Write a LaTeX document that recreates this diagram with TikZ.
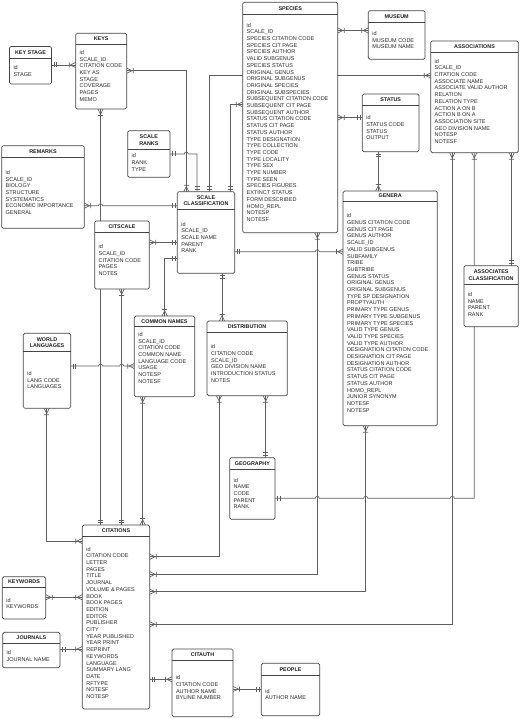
\documentclass[tikz,border=0pt]{standalone}
\usepackage{fontspec}
\setmainfont{Liberation Sans}
\usetikzlibrary{fit}
\definecolor{boxc}{RGB}{68,68,68}
\definecolor{connc}{RGB}{95,95,95}
\definecolor{txtc}{RGB}{42,42,42}

\pgfdeclarearrow{
  name=ERone,
  parameters={},
  setup code={
    \pgfarrowssettipend{0pt}
    \pgfarrowssetlineend{0pt}
    \pgfarrowssetbackend{-6pt}
    \pgfarrowssetvisualbackend{-6pt}
    \pgfarrowshullpoint{0pt}{2.6pt}
    \pgfarrowshullpoint{0pt}{-2.6pt}
    \pgfarrowshullpoint{-6pt}{2.6pt}
    \pgfarrowshullpoint{-6pt}{-2.6pt}
  },
  drawing code={
    \pgfpathmoveto{\pgfqpoint{-2.4pt}{-2.5pt}}
    \pgfpathlineto{\pgfqpoint{-2.4pt}{2.5pt}}
    \pgfpathmoveto{\pgfqpoint{-4.9pt}{-2.5pt}}
    \pgfpathlineto{\pgfqpoint{-4.9pt}{2.5pt}}
    \pgfusepathqstroke
  }
}
\pgfdeclarearrow{
  name=ERmany,
  parameters={},
  setup code={
    \pgfarrowssettipend{0pt}
    \pgfarrowssetlineend{0pt}
    \pgfarrowssetbackend{-7pt}
    \pgfarrowssetvisualbackend{-7pt}
    \pgfarrowshullpoint{0pt}{2.6pt}
    \pgfarrowshullpoint{0pt}{-2.6pt}
    \pgfarrowshullpoint{-7pt}{2.6pt}
    \pgfarrowshullpoint{-7pt}{-2.6pt}
  },
  drawing code={
    \pgfpathmoveto{\pgfqpoint{0pt}{2.6pt}}
    \pgfpathlineto{\pgfqpoint{-5.3pt}{0pt}}
    \pgfpathlineto{\pgfqpoint{0pt}{-2.6pt}}
    \pgfpathmoveto{\pgfqpoint{-6.5pt}{-2.5pt}}
    \pgfpathlineto{\pgfqpoint{-6.5pt}{2.5pt}}
    \pgfusepathqstroke
  }
}

\tikzset{
  ent/.style={draw=boxc, fill=white, rounded corners=1.5pt, inner sep=0pt, outer sep=0pt, line width=0.7pt},
  anchorbox/.style={inner sep=0pt, outer sep=0pt},
  sepl/.style={draw=boxc, line width=0.6pt},
  hdr/.style={font=\fontsize{5.4}{6.4}\selectfont\bfseries, text=black!88, align=center, inner sep=0pt},
  body/.style={font=\fontsize{5.5}{6.7}\selectfont, text=txtc, align=left, inner sep=0pt},
  conn/.style={draw=connc, line width=0.65pt},
}

% name, x1, y1, x2, y2, separator y, header, first line y, lines
\newcommand\erent[9]{%
  \node[ent, fit={(#2,#3) (#4,#5)}] (#1) {};
  \draw[sepl] (#2,#6) -- (#4,#6);
  \node[hdr] (#1-h) at ({(#2+#4)/2},{(#3+#6)/2}) {#7};
  \node[body, anchor=north west] (#1-b) at ({#2+3.8},{#8-2}) {#9};
}

\begin{document}
\begin{tikzpicture}[x=1pt,y=-1pt]
\useasboundingbox[fill=white] (0,0) rectangle (520,719);

% named anchor boxes of the entities (drawn later), so connectors go underneath
\node[anchorbox, fit={(9.5,46.5) (51.5,84)}] (keystage) {};
\node[anchorbox, fit={(75.7,33.3) (126.7,109)}] (keys) {};
\node[anchorbox, fit={(127.7,130.7) (170,177.3)}] (scaleranks) {};
\node[anchorbox, fit={(1.7,145.7) (84.3,228.3)}] (remarks) {};
\node[anchorbox, fit={(94.7,221) (149.3,289)}] (citscale) {};
\node[anchorbox, fit={(23.3,333.3) (70.7,408.3)}] (worldlang) {};
\node[anchorbox, fit={(242.7,2.3) (337.7,232.7)}] (species) {};
\node[anchorbox, fit={(368.3,10.7) (425,59.3)}] (museum) {};
\node[anchorbox, fit={(430.7,41) (518.3,152.7)}] (associations) {};
\node[anchorbox, fit={(362.3,94) (419,151.7)}] (status) {};
\node[anchorbox, fit={(343,191) (437.3,425.7)}] (genera) {};
\node[anchorbox, fit={(464,265.7) (518.3,326.7)}] (assocclass) {};
\node[anchorbox, fit={(177.3,191.7) (234.7,273.3)}] (scaleclass) {};
\node[anchorbox, fit={(207,321) (287.3,395.7)}] (distribution) {};
\node[anchorbox, fit={(134.3,316) (194.7,396.7)}] (commonnames) {};
\node[anchorbox, fit={(229.7,457.7) (275,519.3)}] (geography) {};
\node[anchorbox, fit={(82.3,525) (149.7,709)}] (citations) {};
\node[anchorbox, fit={(2.3,576.7) (45.7,619)}] (keywords) {};
\node[anchorbox, fit={(2.7,632.3) (60,667.7)}] (journals) {};
\node[anchorbox, fit={(172,649) (233,716.7)}] (citauth) {};
\node[anchorbox, fit={(261.3,663.3) (319.7,715.7)}] (people) {};

% connectors
\draw[conn, ERone-ERmany] (keystage.east |- 0,65) -- (keys.west |- 0,65);
\draw[conn, ERmany-ERmany] (keys.east |- 0,70.7) -| (scaleclass.north -| 186.3,0);
\draw[conn, ERone-ERone] (scaleranks.east |- 0,154) -- (184.3,154) arc(180:360:2) -| (scaleclass.north -| 197,0);
\draw[conn, ERone-ERmany] (scaleclass.north -| 209,0) |- (associations.west |- 0,75.5);
\draw[conn, ERmany-ERone] (species.west |- 0,104.3) -| (scaleclass.north -| 230.5,0);
\draw[conn, ERmany-ERmany] (species.east |- 0,30.5) -- (museum.west |- 0,30.5);
\draw[conn, ERmany-ERone] (species.east |- 0,117.5) -- (status.west |- 0,117.5);
\draw[conn, ERone-ERmany] (status.south -| 378.3,0) -- (genera.north -| 378.3,0);
\draw[conn, ERmany-ERone] (associations.south -| 511.7,0) -- (assocclass.north -| 511.7,0);
\draw[conn, ERmany-ERone] (associations.south -| 474.3,0) |- (454.3,498.3) arc(360:180:2) -- (367.7,498.3) arc(360:180:2) -- (319.3,498.3) arc(360:180:2) -- (geography.east |- 0,498.3);
\draw[conn, ERmany-ERmany] (associations.south -| 452.3,0) |- (citations.east |- 0,624.3);
\draw[conn, ERmany-ERmany] (genera.south -| 365.7,0) |- (citations.east |- 0,591.7);
\draw[conn, ERmany-ERmany] (species.south -| 317.3,0) |- (citations.east |- 0,574.3);
\draw[conn, ERmany-ERmany] (distribution.south -| 219,0) |- (citations.east |- 0,556.7);
\draw[conn, ERmany-ERone] (distribution.south -| 265.7,0) -- (geography.north -| 265.7,0);
\draw[conn, ERone-ERmany] (scaleclass.south -| 222,0) -- (distribution.north -| 222,0);
\draw[conn, ERone-ERmany] (scaleclass.east |- 0,251.7) -- (315.3,251.7) arc(180:360:2) -- (genera.west |- 0,251.7);
\draw[conn, ERmany-ERone] (remarks.east |- 0,205.7) -- (98.5,205.7) arc(180:360:2) -- (scaleclass.west |- 0,205.7);
\draw[conn, ERmany-ERone] (citscale.east |- 0,242.3) -- (scaleclass.west |- 0,242.3);
\draw[conn, ERone-ERmany] (scaleclass.west |- 0,258) -| (commonnames.north -| 164.7,0);
\draw[conn, ERmany-ERone] (keys.south -| 100.5,0) -- (citations.north -| 100.5,0);
\draw[conn, ERmany-ERone] (citscale.south -| 121.7,0) -- (citations.north -| 121.7,0);
\draw[conn, ERmany-ERmany] (commonnames.south -| 142.7,0) -- (citations.north -| 142.7,0);
\draw[conn, ERone-ERmany] (worldlang.east |- 0,366) -- (98.5,366) arc(180:360:2) -- (119.7,366) arc(180:360:2) -- (commonnames.west |- 0,366);
\draw[conn, ERmany-ERmany] (worldlang.south -| 46.7,0) |- (citations.west |- 0,541);
\draw[conn, ERmany-ERmany] (keywords.east |- 0,597.3) -- (citations.west |- 0,597.3);
\draw[conn, ERone-ERmany] (journals.east |- 0,649) -- (citations.west |- 0,649);
\draw[conn, ERone-ERmany] (citations.east |- 0,679.3) -- (citauth.west |- 0,679.3);
\draw[conn, ERmany-ERone] (citauth.east |- 0,689) -- (people.west |- 0,689);

% entities
\erent{keystageB}{9.5}{46.5}{51.5}{84}{58.3}{KEY STAGE}{67.3}{id\\STAGE}
\erent{keysB}{75.7}{33.3}{126.7}{109}{44.3}{KEYS}{52.3}{id\\SCALE\_ID\\CITATION CODE\\KEY AS\\STAGE\\COVERAGE\\PAGES\\MEMO}
\erent{scaleranksB}{127.7}{130.7}{170}{177.3}{149.3}{SCALE\\RANKS}{155.5}{id\\RANK\\TYPE}
\erent{remarksB}{1.7}{145.7}{84.3}{228.3}{157.7}{REMARKS}{172.3}{id\\SCALE\_ID\\BIOLOGY\\STRUCTURE\\SYSTEMATICS\\ECONOMIC IMPORTANCE\\GENERAL}
\erent{citscaleB}{94.7}{221}{149.3}{289}{232.7}{CITSCALE}{246.7}{id\\SCALE\_ID\\CITATION CODE\\PAGES\\NOTES}
\erent{worldlangB}{23.3}{333.3}{70.7}{408.3}{351.7}{WORLD\\LANGUAGES}{373.3}{id\\LANG CODE\\LANGUAGES}
\erent{speciesB}{242.7}{2.3}{337.7}{232.7}{14}{SPECIES}{25}{id\\SCALE\_ID\\SPECIES CITATION CODE\\SPECIES CIT PAGE\\SPECIES AUTHOR\\VALID SUBGENUS\\SPECIES STATUS\\ORIGINAL GENUS\\ORIGINAL SUBGENUS\\ORIGINAL SPECIES\\ORIGINAL SUBSPECIES\\SUBSEQUENT CITATION CODE\\SUBSEQUENT CIT PAGE\\SUBSEQUENT AUTHOR\\STATUS CITATION CODE\\STATUS CIT PAGE\\STATUS AUTHOR\\TYPE DESIGNATION\\TYPE COLLECTION\\TYPE CODE\\TYPE LOCALITY\\TYPE SEX\\TYPE NUMBER\\TYPE SEEN\\SPECIES FIGURES\\EXTINCT STATUS\\FORM DESCRIBED\\HOMO\_REPL\\NOTESP\\NOTESF}
\erent{museumB}{368.3}{10.7}{425}{59.3}{22.7}{MUSEUM}{33.3}{id\\MUSEUM CODE\\MUSEUM NAME}
\erent{associationsB}{430.7}{41}{518.3}{152.7}{52.7}{ASSOCIATIONS}{61}{id\\SCALE\_ID\\CITATION CODE\\ASSOCIATE NAME\\ASSOCIATE VALID AUTHOR\\RELATION\\RELATION TYPE\\ACTION A ON B\\ACTION B ON A\\ASSOCIATION SITE\\GEO DIVISION NAME\\NOTESP\\NOTESF}
\erent{statusB}{362.3}{94}{419}{151.7}{105.3}{STATUS}{117.7}{id\\STATUS CODE\\STATUS\\OUTPUT}
\erent{generaB}{343}{191}{437.3}{425.7}{201}{GENERA}{215.7}{id\\GENUS CITATION CODE\\GENUS CIT PAGE\\GENUS AUTHOR\\SCALE\_ID\\VALID SUBGENUS\\SUBFAMILY\\TRIBE\\SUBTRIBE\\GENUS STATUS\\ORIGINAL GENUS\\ORIGINAL SUBGENUS\\TYPE SP DESIGNATION\\PROPTYAUTH\\PRIMARY TYPE GENUS\\PRIMARY TYPE SUBGENUS\\PRIMARY TYPE SPECIES\\VALID TYPE GENUS\\VALID TYPE SPECIES\\VALID TYPE AUTHOR\\DESIGNATION CITATION CODE\\DESIGNATION CIT PAGE\\DESIGNATION AUTHOR\\STATUS CITATION CODE\\STATUS CIT PAGE\\STATUS AUTHOR\\HOMO\_REPL\\JUNIOR SYNONYM\\NOTESF\\NOTESP}
\erent{assocclassB}{464}{265.7}{518.3}{326.7}{284.3}{ASSOCIATES\\CLASSIFICATION}{294.3}{id\\NAME\\PARENT\\RANK}
\erent{scaleclassB}{177.3}{191.7}{234.7}{273.3}{209.3}{SCALE\\CLASSIFICATION}{224}{id\\SCALE\_ID\\SCALE NAME\\PARENT\\RANK}
\erent{distributionB}{207}{321}{287.3}{395.7}{332.5}{DISTRIBUTION}{346.7}{id\\CITATION CODE\\SCALE\_ID\\GEO DIVISION NAME\\INTRODUCTION STATUS\\NOTES}
\erent{commonnamesB}{134.3}{316}{194.7}{396.7}{326.5}{COMMON NAMES}{334.3}{id\\SCALE\_ID\\CITATION CODE\\COMMON NAME\\LANGUAGE CODE\\USAGE\\NOTESP\\NOTESF}
\erent{geographyB}{229.7}{457.7}{275}{519.3}{469.3}{GEOGRAPHY}{480}{id\\NAME\\CODE\\PARENT\\RANK}
\erent{citationsB}{82.3}{525}{149.7}{709}{536.5}{CITATIONS}{549}{id\\CITATION CODE\\LETTER\\PAGES\\TITLE\\JOURNAL\\VOLUME \& PAGES\\BOOK\\BOOK PAGES\\EDITION\\EDITOR\\PUBLISHER\\CITY\\YEAR PUBLISHED\\YEAR PRINT\\REPRINT\\KEYWORDS\\LANGUAGE\\SUMMARY LANG\\DATE\\RFTYPE\\NOTESF\\NOTESP}
\erent{keywordsB}{2.3}{576.7}{45.7}{619}{587.3}{KEYWORDS}{600}{id\\KEYWORDS}
\erent{journalsB}{2.7}{632.3}{60}{667.7}{643.3}{JOURNALS}{652.3}{id\\JOURNAL NAME}
\erent{citauthB}{172}{649}{233}{716.7}{660}{CITAUTH}{677.7}{id\\CITATION CODE\\AUTHOR NAME\\BYLINE NUMBER}
\erent{peopleB}{261.3}{663.3}{319.7}{715.7}{675}{PEOPLE}{691}{id\\AUTHOR NAME}
\end{tikzpicture}
\end{document}
